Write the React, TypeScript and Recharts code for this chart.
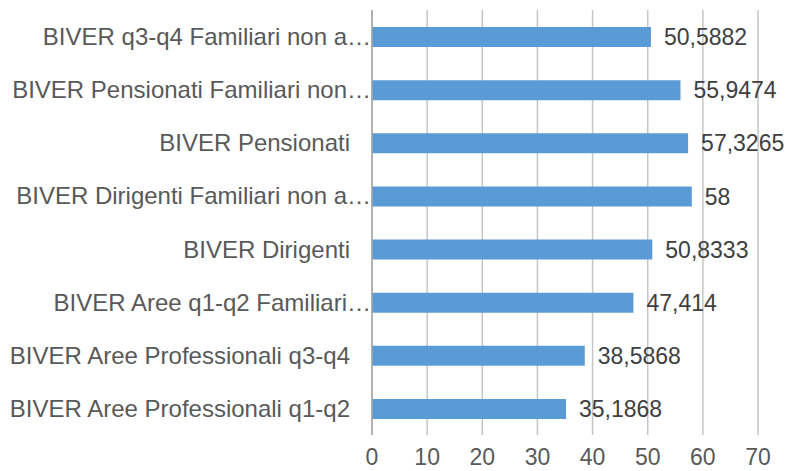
import React from 'react';
import { BarChart, Bar, XAxis, YAxis, CartesianGrid, LabelList } from 'recharts';

const categories = [
  'BIVER q3-q4 Familiari non a…',
  'BIVER Pensionati Familiari non…',
  'BIVER Pensionati',
  'BIVER Dirigenti Familiari non a…',
  'BIVER Dirigenti',
  'BIVER Aree q1-q2 Familiari…',
  'BIVER Aree Professionali q3-q4',
  'BIVER Aree Professionali q1-q2',
];
const values = [50.5882, 55.9474, 57.3265, 58, 50.8333, 47.414, 38.5868, 35.1868];
const xTicks = [0, 10, 20, 30, 40, 50, 60, 70];

const data = categories.map((name, i) => ({ name, value: values[i] }));

const FONT = 'Liberation Sans, Arial, sans-serif';

const CategoryTick = (props: any) => {
  const { x, y, payload } = props;
  const label: string = payload.value;
  const cut = label.endsWith('…');
  return (
    <text
      x={cut ? x - 1 : x - 22}
      y={y}
      dy="0.355em"
      textAnchor="end"
      fill="#595959"
      fontSize={24}
      fontFamily={FONT}
    >
      {label}
    </text>
  );
};

export default function App() {
  return (
    <div style={{ position: 'absolute', left: 0, top: 0, background: '#fff' }}>
      <BarChart
        width={794}
        height={471}
        data={data}
        layout="vertical"
        margin={{ top: 10, right: 36, left: 0, bottom: 0 }}
        barSize={20}
      >
        <CartesianGrid horizontal={false} stroke="#c6c6c6" strokeWidth={1.5} />
        <XAxis
          type="number"
          domain={[0, 70]}
          ticks={xTicks}
          axisLine={false}
          tickLine={false}
          tickSize={0}
          tickMargin={14}
          height={36}
          interval={0}
          tick={{ fill: '#595959', fontSize: 23, fontFamily: FONT }}
        />
        <YAxis
          type="category"
          dataKey="name"
          width={372}
          axisLine={{ stroke: '#a6a6a6', strokeWidth: 1.5 }}
          tickLine={false}
          tickSize={0}
          tickMargin={0}
          interval={0}
          tick={<CategoryTick />}
        />
        <Bar dataKey="value" fill="#5B9BD5" isAnimationActive={false}>
          <LabelList
            dataKey="value"
            position="right"
            offset={13}
            fill="#404040"
            fontSize={23}
            fontFamily={FONT}
            formatter={(v: any) => String(v).replace('.', ',')}
          />
        </Bar>
      </BarChart>
    </div>
  );
}
